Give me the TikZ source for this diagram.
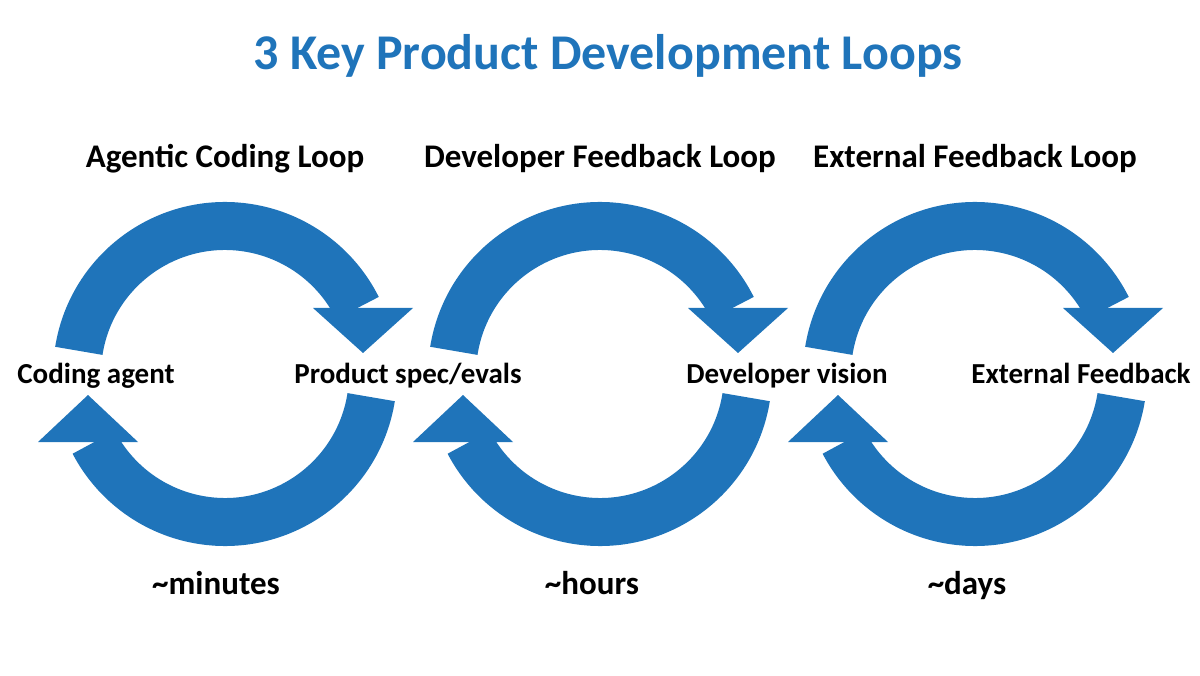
\documentclass[tikz,border=0pt]{standalone}
\usepackage{fontspec}
\setmainfont{Carlito}
\definecolor{loopblue}{HTML}{1F74BA}
\tikzset{
  band/.style={draw=loopblue, line width=48pt, line cap=butt},
  head/.style={fill=loopblue},
  heading/.style={anchor=base, font=\fontsize{33}{38}\selectfont\bfseries},
  side/.style={anchor=base, font=\fontsize{29}{34}\selectfont\bfseries},
}
\begin{document}
\begin{tikzpicture}[x=1pt,y=1pt]
  \useasboundingbox (0,0) rectangle (1200,-676);
  \node[anchor=base, font=\fontsize{50}{60}\selectfont\bfseries, text=loopblue] (title) at (608,-70) {3 Key Product Development Loops};
  % three loops
  \foreach \cx/\name/\time/\tx in {225/Agentic Coding Loop/\textasciitilde minutes/216,
                                 600/Developer Feedback Loop/\textasciitilde hours/592,
                                 975/External Feedback Loop/\textasciitilde days/967}{
    \coordinate (c\cx) at (\cx,-374);
    \draw[band] ([shift={(171:148)}]c\cx) arc (171:26.5:148);
    \fill[head] ([shift={(88,66)}]c\cx) -- ([shift={(188,66)}]c\cx) -- ([shift={(138,21)}]c\cx) -- cycle;
    \draw[band] ([shift={(-9:148)}]c\cx) arc (-9:-152.5:148);
    \fill[head] ([shift={(-187,-68)}]c\cx) -- ([shift={(-87,-68)}]c\cx) -- ([shift={(-137,-21)}]c\cx) -- cycle;
    \node[heading] (h\cx) at (\cx,-168) {\name};
    \node[heading] (t\cx) at (\tx,-594) {\time};
  }
  \node[side] (agent) at (96,-384) {Coding agent};
  \node[side] (spec) at (408,-384) {Product spec/evals};
  \node[side] (vision) at (787,-384) {Developer vision};
  \node[side] (external) at (1081,-384) {External Feedback};
\end{tikzpicture}
\end{document}
